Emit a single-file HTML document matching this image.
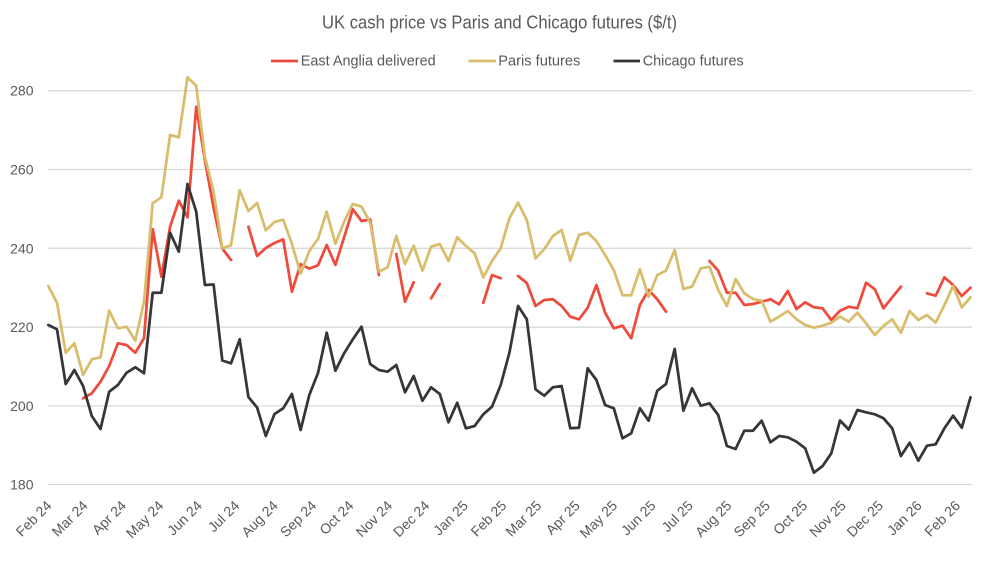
<!DOCTYPE html>
<html>
<head>
<meta charset="utf-8">
<style>
html,body{margin:0;padding:0;background:#fff;}
svg{display:block;}
text{font-family:"Liberation Sans",Arial,sans-serif;fill:#595959;}
</style>
</head>
<body>
<svg width="999" height="588" viewBox="0 0 999 588" xmlns="http://www.w3.org/2000/svg">
<rect width="999" height="588" fill="#fff"/>
<!-- title -->
<text x="322" y="28.3" font-size="18" textLength="355" lengthAdjust="spacingAndGlyphs">UK cash price vs Paris and Chicago futures ($/t)</text>
<!-- legend -->
<line x1="271" y1="61" x2="298" y2="61" stroke="#EF4B3C" stroke-width="2.75"/>
<text x="300.7" y="65.3" font-size="15" textLength="135" lengthAdjust="spacingAndGlyphs">East Anglia delivered</text>
<line x1="468.5" y1="61" x2="496" y2="61" stroke="#D8BD6C" stroke-width="2.75"/>
<text x="498.3" y="65.3" font-size="15" textLength="82" lengthAdjust="spacingAndGlyphs">Paris futures</text>
<line x1="613.5" y1="61" x2="640" y2="61" stroke="#363636" stroke-width="2.75"/>
<text x="642.7" y="65.3" font-size="15" textLength="101" lengthAdjust="spacingAndGlyphs">Chicago futures</text>
<!-- gridlines -->
<g stroke="#D9D9D9" stroke-width="1.3">
<line x1="48" y1="90.7" x2="972" y2="90.7"/>
<line x1="48" y1="169.5" x2="972" y2="169.5"/>
<line x1="48" y1="248.3" x2="972" y2="248.3"/>
<line x1="48" y1="327.2" x2="972" y2="327.2"/>
<line x1="48" y1="406" x2="972" y2="406"/>
<line x1="48" y1="484.5" x2="972" y2="484.5"/>
</g>
<!-- y labels -->
<g font-size="14" text-anchor="end">
<text x="33.5" y="95.7">280</text>
<text x="33.5" y="174.5">260</text>
<text x="33.5" y="253.3">240</text>
<text x="33.5" y="332.2">220</text>
<text x="33.5" y="411">200</text>
<text x="33.5" y="489.5">180</text>
</g>
<!-- x labels -->
<g font-size="14" text-anchor="end">
<text transform="translate(52.5,506.5) rotate(-45)">Feb 24</text>
<text transform="translate(88.5,506.5) rotate(-45)">Mar 24</text>
<text transform="translate(127.1,506.5) rotate(-45)">Apr 24</text>
<text transform="translate(164.4,506.5) rotate(-45)">May 24</text>
<text transform="translate(202.9,506.5) rotate(-45)">Jun 24</text>
<text transform="translate(240.2,506.5) rotate(-45)">Jul 24</text>
<text transform="translate(278.7,506.5) rotate(-45)">Aug 24</text>
<text transform="translate(317.3,506.5) rotate(-45)">Sep 24</text>
<text transform="translate(354.5,506.5) rotate(-45)">Oct 24</text>
<text transform="translate(393.1,506.5) rotate(-45)">Nov 24</text>
<text transform="translate(430.4,506.5) rotate(-45)">Dec 24</text>
<text transform="translate(468.9,506.5) rotate(-45)">Jan 25</text>
<text transform="translate(507.4,506.5) rotate(-45)">Feb 25</text>
<text transform="translate(542.2,506.5) rotate(-45)">Mar 25</text>
<text transform="translate(580.8,506.5) rotate(-45)">Apr 25</text>
<text transform="translate(618.1,506.5) rotate(-45)">May 25</text>
<text transform="translate(656.6,506.5) rotate(-45)">Jun 25</text>
<text transform="translate(693.9,506.5) rotate(-45)">Jul 25</text>
<text transform="translate(732.4,506.5) rotate(-45)">Aug 25</text>
<text transform="translate(770.9,506.5) rotate(-45)">Sep 25</text>
<text transform="translate(808.2,506.5) rotate(-45)">Oct 25</text>
<text transform="translate(846.7,506.5) rotate(-45)">Nov 25</text>
<text transform="translate(884.0,506.5) rotate(-45)">Dec 25</text>
<text transform="translate(922.6,506.5) rotate(-45)">Jan 26</text>
<text transform="translate(961.1,506.5) rotate(-45)">Feb 26</text>
</g>
<!-- series -->
<g fill="none" stroke-width="2.75" stroke-linejoin="round" stroke-linecap="round">
<g stroke="#EF4B3C">
<polyline points="83.1,398.3 91.8,393.3 100.5,381.7 109.2,366 117.9,343.3 126.6,345 135.3,352.7 144,338.3 152.7,229.3 161.4,276.7 170.1,226.7 178.8,200.7 187.5,217.3 196.2,106.7 204.9,160 213.6,208 222.3,248.5 231,260"/>
<polyline points="248.4,226.7 257.1,256 265.8,248 274.5,243 283.2,239.3 291.9,291.7 300.6,264.2 309.3,268.6 318,265.3 326.7,245 335.4,265 344.1,237.3 352.8,209.3 361.5,221 370.2,219.5 378.9,275"/>
<polyline points="396.3,254 405,301.7 413.7,282.3"/>
<polyline points="431.1,298.3 439.8,284"/>
<polyline points="483.3,302.7 492,275 500.7,278.3"/>
<polyline points="518.1,276 526.8,283 535.5,306 544.2,300 552.9,299.3 561.6,306 570.3,316.7 579,319.3 587.7,307.7 596.4,285 605.1,312.7 613.8,328.3 622.5,325.7 631.2,338.3 639.9,305 648.6,290 657.3,299.3 666,311.7"/>
<polyline points="709.5,261 718.2,270.7 726.9,292.7 735.6,292.7 744.3,305 753,304 761.7,301.7 770.4,299.3 779.1,304.3 787.8,291 796.5,309 805.2,302.3 813.9,307.3 822.6,308.3 831.3,320 840,310.7 848.7,306.7 857.4,308.3 866.1,282.7 874.8,289.3 883.5,308.3 892.2,297.3 900.9,286.7"/>
<polyline points="927,293.3 935.7,295.7 944.4,277.3 953.1,285 961.8,296 970.5,287.7"/>
</g>
<polyline stroke="#D8BD6C" points="48.3,286 57,302.7 65.7,352.7 74.4,343.3 83.1,375 91.8,359.3 100.5,357.3 109.2,310.7 117.9,328.3 126.6,326.7 135.3,340.7 144,301.7 152.7,203.3 161.4,197.3 170.1,135 178.8,137.3 187.5,77.3 196.2,85.7 204.9,156.7 213.6,191.7 222.3,248.3 231,245.3 239.7,190.3 248.4,211 257.1,203 265.8,230.3 274.5,222 283.2,219.7 291.9,243.7 300.6,273.7 309.3,251 318,239 326.7,211.7 335.4,243.7 344.1,221.7 352.8,204 361.5,206.7 370.2,222.7 378.9,271.7 387.6,267.3 396.3,236 405,264 413.7,245.7 422.4,270.7 431.1,246.7 439.8,244 448.5,261 457.2,237.3 465.9,246 474.6,253.3 483.3,277.3 492,261 500.7,248.3 509.4,218.3 518.1,202.7 526.8,220 535.5,258.3 544.2,249.3 552.9,236 561.6,230 570.3,260.7 579,235 587.7,232.7 596.4,241 605.1,255 613.8,270 622.5,295.3 631.2,295.3 639.9,269.3 648.6,296.7 657.3,275 666,270.7 674.7,250 683.4,289 692.1,286.5 700.8,268.3 709.5,266.7 718.2,290 726.9,306 735.6,279 744.3,293.3 753,299 761.7,300.7 770.4,321.7 779.1,316.7 787.8,311 796.5,319.3 805.2,325 813.9,327.7 822.6,325.7 831.3,322.7 840,316.5 848.7,321.7 857.4,312.7 866.1,323.3 874.8,335 883.5,326 892.2,319.3 900.9,332.7 909.6,311 918.3,320 927,315 935.7,322.7 944.4,305 953.1,286 961.8,307.3 970.5,297.3"/>
<polyline stroke="#363636" points="48.3,325 57,329.3 65.7,384 74.4,370 83.1,386 91.8,416 100.5,429 109.2,391.7 117.9,385 126.6,372.7 135.3,367.3 144,373.3 152.7,292.7 161.4,292.7 170.1,232.7 178.8,251.7 187.5,184 196.2,211.7 204.9,285 213.6,284.5 222.3,360.5 231,363.3 239.7,339.3 248.4,397 257.1,407.5 265.8,436 274.5,414 283.2,408.3 291.9,394 300.6,430 309.3,395 318,373 326.7,332.7 335.4,370.7 344.1,353.3 352.8,339.3 361.5,326.7 370.2,364 378.9,370 387.6,371.7 396.3,365 405,392.3 413.7,376 422.4,400.7 431.1,387.3 439.8,394 448.5,422.3 457.2,402.7 465.9,428.3 474.6,426 483.3,414.3 492,406.7 500.7,385 509.4,352.7 518.1,306 526.8,319.3 535.5,389.3 544.2,395.7 552.9,387.3 561.6,386 570.3,428.3 579,427.7 587.7,368.3 596.4,380 605.1,405 613.8,408.3 622.5,438.3 631.2,433.3 639.9,408.3 648.6,420.7 657.3,390.7 666,384 674.7,349 683.4,410.7 692.1,388.3 700.8,405.7 709.5,403.3 718.2,415 726.9,446 735.6,449 744.3,430.7 753,430.7 761.7,420.7 770.4,442.3 779.1,436 787.8,437.3 796.5,441.7 805.2,448.3 813.9,472.7 822.6,466 831.3,453.3 840,420.5 848.7,429.5 857.4,410 866.1,412.3 874.8,414.3 883.5,418.3 892.2,428.3 900.9,456 909.6,442.7 918.3,460.7 927,445.7 935.7,444.3 944.4,428.3 953.1,415.7 961.8,427.7 970.5,397.3"/>
</g>
</svg>
</body>
</html>
